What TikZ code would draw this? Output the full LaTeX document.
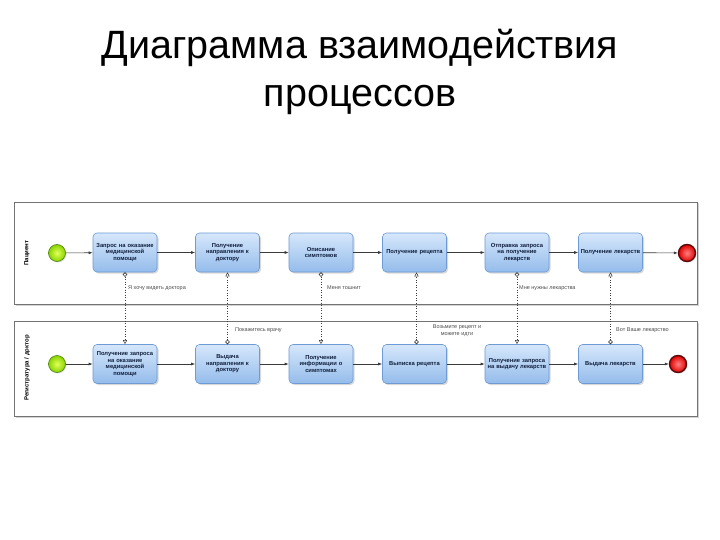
\documentclass[tikz,border=0pt]{standalone}
\usepackage{fontspec}
\setmainfont{Liberation Sans}
\usetikzlibrary{arrows.meta,shadows,positioning}
\definecolor{boxtop}{HTML}{D6E7FB}
\definecolor{boxbot}{HTML}{94BCEB}
\definecolor{boxline}{HTML}{6E9BD3}
\definecolor{txtc}{HTML}{0F1E3C}
\definecolor{flowc}{HTML}{3A3A3A}
\definecolor{gin}{HTML}{E4FF5A}
\definecolor{gout}{HTML}{86D400}
\definecolor{gline}{HTML}{4F7F10}
\definecolor{rin}{HTML}{FF8080}
\definecolor{rout}{HTML}{E00000}
\definecolor{rline}{HTML}{5A0A0A}
\tikzset{
  x=1pt,y=-1pt,
  pool/.style={draw=black!55,fill=white,line width=0.6pt,
    drop shadow={opacity=0.35,shadow xshift=1.5pt,shadow yshift=-1.5pt}},
  task/.style={draw=boxline,line width=0.6pt,rounded corners=4pt,
    top color=boxtop,bottom color=boxbot,minimum width=64pt,minimum height=39pt,
    inner sep=1pt,align=center,text width=62pt,
    font=\fontsize{5.8}{6.6}\selectfont\bfseries,text=txtc,
    drop shadow={opacity=0.3,shadow xshift=1.5pt,shadow yshift=-1.5pt}},
  startev/.style={circle,draw=gline,line width=0.6pt,minimum size=17pt,inner sep=0pt,
    inner color=gin,outer color=gout,
    drop shadow={opacity=0.25,shadow xshift=1pt,shadow yshift=-1pt}},
  endev/.style={circle,draw=rline,line width=1.4pt,minimum size=17pt,inner sep=0pt,
    inner color=rin,outer color=rout,
    drop shadow={opacity=0.25,shadow xshift=1pt,shadow yshift=-1pt}},
  seqflow/.style={draw=flowc,line width=0.6pt,-{Latex[length=4pt,width=3pt]}},
  msgflow/.style={draw=flowc,line width=0.6pt,dotted,
    {Circle[open,length=4.5pt,width=4.5pt,line width=0.6pt,sep=0pt]}-{Triangle[open,length=4pt,width=4pt,line width=0.5pt]}},
  msglbl/.style={font=\fontsize{5.5}{6.5}\selectfont,text=black!70,inner sep=1pt},
  lanelbl/.style={font=\fontsize{6}{7}\selectfont\bfseries,rotate=90,text=black}
}
\begin{document}
\begin{tikzpicture}
\useasboundingbox (0,0) rectangle (720,540);
% title
\node[font=\fontsize{39.5}{48}\selectfont,align=center] (title) at (360,72) {Диаграмма взаимодействия\\процессов};
% pools
\path[pool] (14,202) rectangle (697,304);
\path[pool] (14,321) rectangle (697,416);
\node[lanelbl] (l1) at (27,253) {Пациент};
\node[lanelbl] (l2) at (27,368) {Регистратура / доктор};
% top lane
\node[startev] (s1) at (57,253) {};
\node[task] (a1) at (125,252.5) {Запрос на оказание\\медицинской\\помощи};
\node[task] (a2) at (227.5,252.5) {Получение\\направления к\\доктору};
\node[task] (a3) at (321,252.5) {Описание\\симптомов};
\node[task] (a4) at (414.5,252.5) {Получение рецепта};
\node[task] (a5) at (517,252.5) {Отправка запроса\\на получение\\лекарств};
\node[task] (a6) at (610.5,252.5) {Получение лекарств};
\node[endev] (e1) at (687,253) {};
% bottom lane
\node[startev] (s2) at (57,364) {};
\node[task] (b1) at (125,364) {Получение запроса\\на оказание\\медицинской\\помощи};
\node[task] (b2) at (227.5,364) {Выдача\\направления к\\доктору};
\node[task] (b3) at (321,364) {Получение\\информации о\\симптомах};
\node[task] (b4) at (414.5,364) {Выписка рецепта};
\node[task] (b5) at (517,364) {Получение запроса\\на выдачу лекарств};
\node[task] (b6) at (610.5,364) {Выдача лекарств};
\node[endev] (e2) at (678,364) {};
% sequence flows
\draw[seqflow] (s1) -- (a1);
\draw[seqflow] (a1) -- (a2);
\draw[seqflow] (a2) -- (a3);
\draw[seqflow] (a3) -- (a4);
\draw[seqflow] (a4) -- (a5);
\draw[seqflow] (a5) -- (a6);
\draw[seqflow] (a6) -- (e1);
\draw[seqflow] (s2) -- (b1);
\draw[seqflow] (b1) -- (b2);
\draw[seqflow] (b2) -- (b3);
\draw[seqflow] (b3) -- (b4);
\draw[seqflow] (b4) -- (b5);
\draw[seqflow] (b5) -- (b6);
\draw[seqflow] (b6) -- (e2);
% message flows
\draw[msgflow] (a1.south) -- (b1.north);
\draw[msgflow] (b2.north) -- (a2.south);
\draw[msgflow] (a3.south) -- (b3.north);
\draw[msgflow] ([xshift=2pt]b4.north) -- ([xshift=2pt]a4.south);
\draw[msgflow] (a5.south) -- (b5.north);
\draw[msgflow] (b6.north) -- (a6.south);
% message labels
\node[msglbl,anchor=west] (m1) at (127,288) {Я хочу видеть доктора};
\node[msglbl,anchor=west] (m2) at (234,330) {Покажитесь врачу};
\node[msglbl,anchor=west] (m3) at (326,288) {Меня тошнит};
\node[msglbl,align=center] (m4) at (457,330.5) {Возьмите рецепт и\\можете идти};
\node[msglbl,anchor=west] (m5) at (518,288) {Мне нужны лекарства};
\node[msglbl,anchor=west] (m6) at (615,330) {Вот Ваше лекарство};
\end{tikzpicture}
\end{document}
